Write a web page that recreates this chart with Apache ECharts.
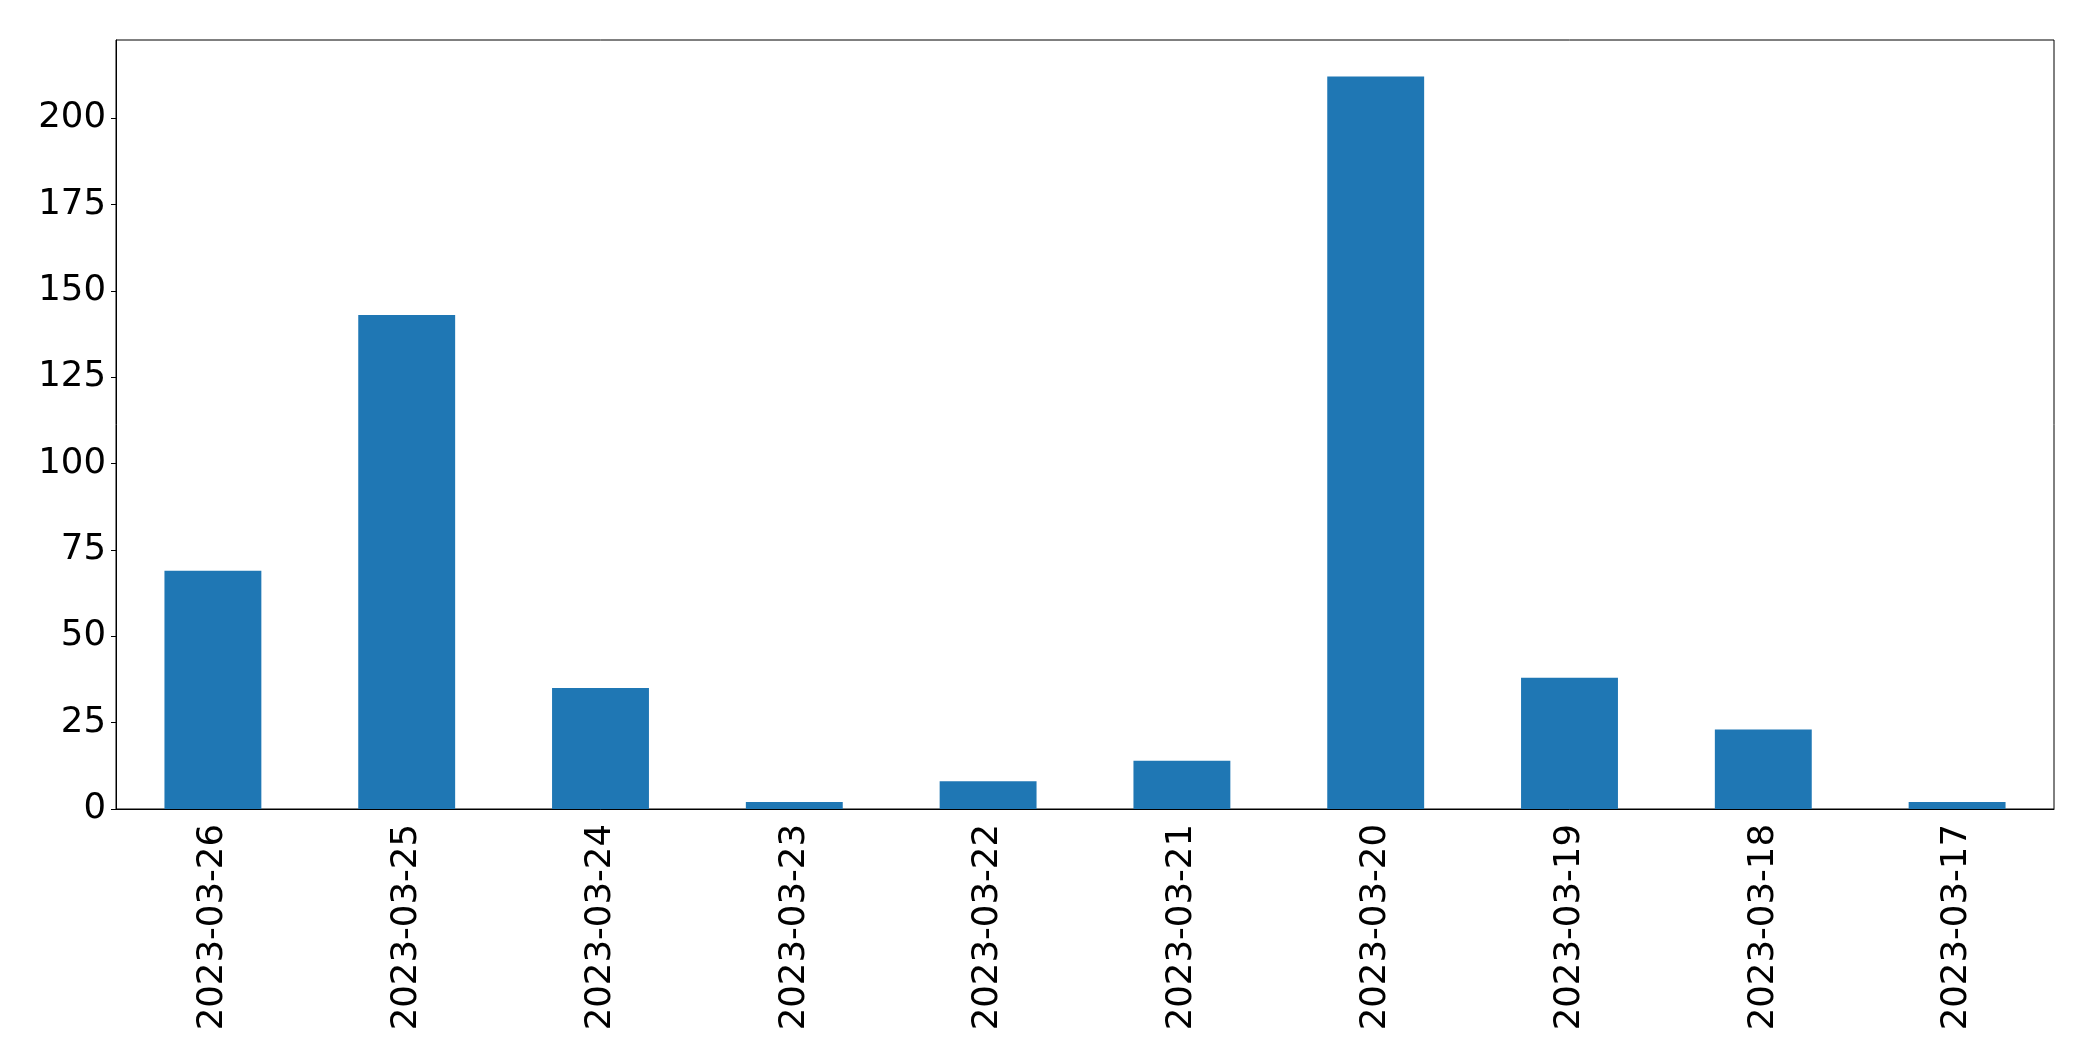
<!DOCTYPE html>
<html>
<head>
<meta charset="utf-8">
<script src="https://cdn.jsdelivr.net/npm/echarts@6/dist/echarts.min.js"></script>
<style>
    html, body { margin: 0; padding: 0; background: #fff; }
    #chart { width: 2093px; height: 1061px; }
</style>
</head>
<body>
<div id="chart"></div>
<script>
    // 日期 / 数值
    const dates = ['2023-03-26', '2023-03-25', '2023-03-24', '2023-03-23', '2023-03-22',
                   '2023-03-21', '2023-03-20', '2023-03-19', '2023-03-18', '2023-03-17'];
    const counts = [69, 143, 35, 2, 8, 14, 212, 38, 23, 2];
    const yTicks = [0, 25, 50, 75, 100, 125, 150, 175, 200];

    const myChart = echarts.init(document.getElementById('chart'));
    const font = 'DejaVu Sans';

    const option = {
        animation: false,
        backgroundColor: '#fff',
        grid: {
            left: 116,
            right: 39,
            top: 40,
            bottom: 252,
            show: true,
            borderColor: '#000',
            borderWidth: 1
        },
        xAxis: {
            type: 'category',
            data: dates,
            boundaryGap: true,
            axisLine: { lineStyle: { color: '#000', width: 1 } },
            axisTick: { alignWithLabel: true, length: 5, lineStyle: { color: '#000' } },
            axisLabel: {
                rotate: 90,
                interval: 0,
                margin: 15,
                color: '#000',
                fontFamily: font,
                fontSize: 35.5
            }
        },
        yAxis: {
            type: 'value',
            min: 0,
            max: 212 * 1.05,
            splitLine: { show: false },
            axisLine: { show: true, lineStyle: { color: '#000', width: 1 } },
            axisTick: { show: true, length: 5, customValues: yTicks, lineStyle: { color: '#000' } },
            axisLabel: {
                customValues: yTicks,
                margin: 10,
                color: '#000',
                fontFamily: font,
                fontSize: 35.5
            }
        },
        series: [
            {
                type: 'bar',
                data: counts,
                barWidth: '50%',
                itemStyle: { color: '#1f77b4' }
            }
        ]
    };
    myChart.setOption(option);
</script>
</body>
</html>
